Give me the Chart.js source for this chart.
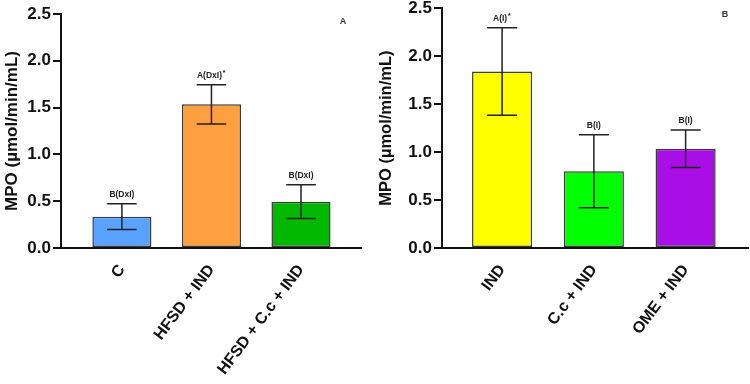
<!DOCTYPE html>
<html>
<head>
<meta charset="utf-8">
<script src="https://cdn.jsdelivr.net/npm/chart.js@4.4.1/dist/chart.umd.min.js"></script>
<style>
  body { margin: 0; background: #fff; }
  #wrap { position: relative; width: 750px; height: 384px; overflow: hidden; }
  .panel { position: absolute; }
</style>
</head>
<body>
<div id="wrap">
  <div class="panel" style="left:0;top:0"><canvas id="chartA" width="375" height="384"></canvas></div>
  <div class="panel" style="left:375px;top:-4px"><canvas id="chartB" width="375" height="388"></canvas></div>
</div>
<script>
// panel A
const labelsA = ['C', 'HFSD + IND', 'HFSD + C.c + IND']
const meanA = [0.335, 1.535, 0.495]
const sdA = [0.137, 0.21, 0.18]
const letrasA = ['B(DxI)', 'A(DxI)', 'B(DxI)']
const estrelaA = [false, true, false]
const coresA = ['#5aa2ff', '#ffa040', '#00b800']

// panel B
const labelsB = ['IND', 'C.c + IND', 'OME + IND']
const meanB = [1.84, 0.80, 1.035]
const sdB = [0.455, 0.38, 0.195]
const letrasB = ['A(I)', 'B(I)', 'B(I)']
const estrelaB = [true, false, false]
const coresB = ['#ffff00', '#00ff00', '#aa0ee6']

const yTicks = [0, 0.5, 1.0, 1.5, 2.0, 2.5]
const tituloY = 'MPO (µmol/min/mL)'

const fonte = '"Liberation Sans", Arial, sans-serif'

const errorBars = {
  id: 'errorBars',
  afterDatasetsDraw(chart, args, opts) {
    const ctx = chart.ctx
    const yScale = chart.scales.y
    const meta = chart.getDatasetMeta(0)
    ctx.save()
    ctx.strokeStyle = '#222'
    ctx.lineWidth = 1.5
    meta.data.forEach((bar, i) => {
      const m = opts.mean[i], s = opts.sd[i]
      const yTop = yScale.getPixelForValue(m + s)
      const yBot = yScale.getPixelForValue(m - s)
      const half = bar.width / 4
      ctx.beginPath()
      ctx.moveTo(bar.x, yTop); ctx.lineTo(bar.x, yBot)
      ctx.moveTo(bar.x - half, yTop); ctx.lineTo(bar.x + half, yTop)
      ctx.moveTo(bar.x - half, yBot); ctx.lineTo(bar.x + half, yBot)
      ctx.stroke()

      // letras de significancia
      ctx.fillStyle = '#222'
      ctx.font = 'bold 8.5px ' + fonte
      ctx.textBaseline = 'alphabetic'
      const txt = opts.letras[i]
      const w = ctx.measureText(txt).width
      const starW = opts.estrela[i] ? 4 : 0
      const x0 = bar.x - (w + starW) / 2
      ctx.textAlign = 'left'
      ctx.fillText(txt, x0, yTop - 7)
      if (opts.estrela[i]) {
        ctx.font = 'bold 8px ' + fonte
        ctx.fillText('*', x0 + w + 0.5, yTop - 10)
      }
    })
    // letra do painel
    ctx.font = 'bold 9px ' + fonte
    ctx.fillStyle = '#333'
    ctx.textAlign = 'center'
    ctx.fillText(opts.painel, chart.chartArea.right - opts.painelDx, chart.chartArea.top + opts.painelDy)
    ctx.restore()
  }
}

function gerarGrafico(id, labels, mean, sd, letras, estrela, cores, cfg) {
  const ctx = document.getElementById(id).getContext('2d')
  new Chart(ctx, {
    type: 'bar',
    data: {
      datasets: [{
        data: mean.map((v, i) => ({ x: i, y: v })),
        backgroundColor: cores,
        borderColor: '#3a3a3a',
        borderWidth: 1.5,
        borderSkipped: false,
        barPercentage: cfg.barPct,
        categoryPercentage: 1
      }]
    },
    options: {
      responsive: false,
      animation: false,
      layout: { padding: cfg.padding },
      plugins: {
        legend: { display: false },
        tooltip: { enabled: false },
        errorBars: {
          mean: mean, sd: sd, letras: letras, estrela: estrela,
          painel: cfg.painel, painelDx: cfg.painelDx, painelDy: cfg.painelDy
        }
      },
      scales: {
        x: {
          type: 'linear',
          offset: false,
          min: cfg.xMin,
          max: cfg.xMax,
          afterFit: (s) => { s.height = cfg.xHeight },
          border: { display: true, color: '#111', width: 2 },
          grid: { display: true, drawOnChartArea: false, drawTicks: false },
          ticks: {
            stepSize: 1,
            includeBounds: false,
            autoSkip: false,
            minRotation: 53,
            maxRotation: 53,
            padding: 13,
            color: '#111',
            font: { family: fonte, size: 16, weight: 'bold' },
            callback: (v) => Number.isInteger(v) && labels[v] !== undefined ? labels[v] : ''
          }
        },
        y: {
          min: 0,
          max: 2.5,
          afterFit: (s) => { s.width = cfg.yWidth },
          afterBuildTicks: (s) => { s.ticks = yTicks.map(v => ({ value: v })) },
          border: { display: true, color: '#111', width: 2 },
          grid: { drawOnChartArea: false, drawTicks: true, tickLength: 8, color: '#111', lineWidth: 2 },
          ticks: {
            padding: 2,
            color: '#111',
            font: { family: fonte, size: 17, weight: 'bold' },
            callback: (v) => v.toFixed(1)
          },
          title: {
            display: true,
            text: tituloY,
            color: '#111',
            padding: { top: 2, bottom: 0 },
            font: { family: fonte, size: cfg.tituloSize, weight: 'bold' }
          }
        }
      }
    },
    plugins: [errorBars]
  })
}

gerarGrafico('chartA', labelsA, meanA, sdA, letrasA, estrelaA, coresA, {
  padding: { top: 14, right: 14, left: 0, bottom: 0 },
  yWidth: 61, xHeight: 136, xMin: -0.68, xMax: 2.67, barPct: 0.66,
  painel: 'A', painelDx: 18, painelDy: 10, tituloSize: 17
})

gerarGrafico('chartB', labelsB, meanB, sdB, letrasB, estrelaB, coresB, {
  padding: { top: 11, right: 2, left: 0, bottom: 0 },
  yWidth: 67, xHeight: 136, xMin: -0.655, xMax: 2.68, barPct: 0.655,
  painel: 'B', painelDx: 23, painelDy: 9, tituloSize: 16.5
})
</script>
</body>
</html>
